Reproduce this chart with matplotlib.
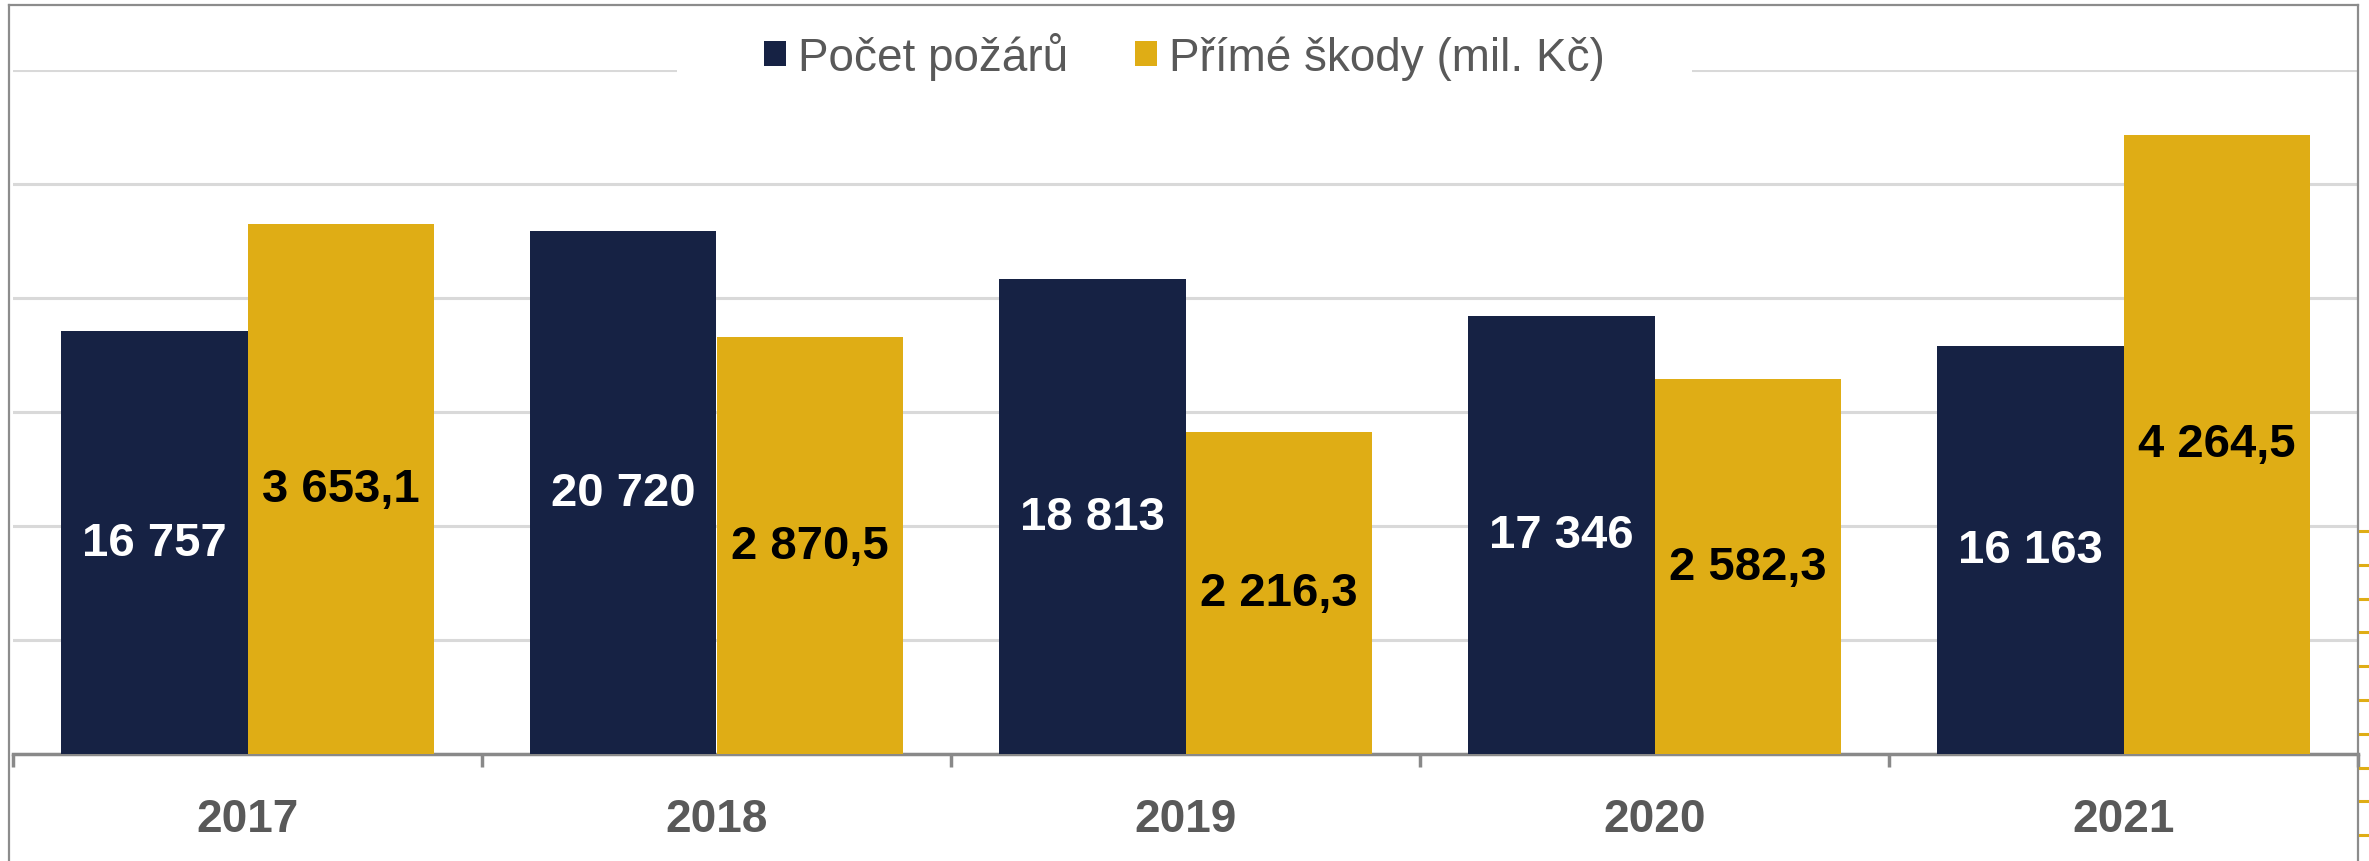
import matplotlib
matplotlib.use("Agg")
import matplotlib.pyplot as plt
from matplotlib.patches import Patch
from matplotlib.lines import Line2D
import numpy as np

years = ['2017', '2018', '2019', '2020', '2021']
fires = [16757, 20720, 18813, 17346, 16163]
damage = [3653.1, 2870.5, 2216.3, 2582.3, 4264.5]
series_names = ['Počet požárů', 'Přímé škody (mil. Kč)']

NAVY = '#162244'
GOLD = '#DFAD15'
GRAY_TXT = '#595959'
GRID = '#D9D9D9'
AXIS = '#898989'
FONT = ['Liberation Sans', 'DejaVu Sans']

plt.rcParams['font.family'] = FONT

W, H = 2369, 862
fig = plt.figure(figsize=(W / 100, H / 100), dpi=100)

left_px, right_px, base_px, top_px = 13, 2358, 755, 71
ax1 = fig.add_axes([left_px / W, 1 - base_px / H, (right_px - left_px) / W, (base_px - top_px) / H])
ax2 = ax1.twinx()

x = np.arange(len(years))
bw = 0.3976

ymax1 = 27110
ymax2 = 4712
ax1.set_ylim(0, ymax1)
ax2.set_ylim(0, ymax2)
ax1.set_xlim(-0.5, len(years) - 0.5)

b1 = ax1.bar(x - bw / 2, fires, bw, color=NAVY, zorder=3)
b2 = ax2.bar(x + bw / 2, damage, bw, color=GOLD, zorder=3)

# grid
ax1.set_yticks(np.linspace(0, ymax1, 7))
ax1.yaxis.grid(True, color=GRID, linewidth=2.2)
ax1.set_axisbelow(True)
ax1.tick_params(axis='y', length=0, labelleft=False)
ax2.set_yticks([])
ax2.tick_params(axis='y', length=0, labelright=False)

for ax in (ax1, ax2):
    for s in ('top', 'left', 'right'):
        ax.spines[s].set_visible(False)
ax2.spines['bottom'].set_visible(False)
ax1.spines['bottom'].set_color(AXIS)
ax1.spines['bottom'].set_linewidth(2.5)

# x ticks
ax1.set_xticks(x)
ax1.set_xticklabels(years, fontsize=33, fontweight='bold', color=GRAY_TXT)
ax1.tick_params(axis='x', which='major', length=0, pad=31)
ax1.set_xticks(np.arange(-0.5, len(years)), minor=True)
ax1.tick_params(axis='x', which='minor', length=9, width=2.5, color=AXIS)


def fmt(v, dec):
    s = f"{v:,.{dec}f}"
    return s.replace(',', ' ').replace('.', ',')


for rect, v in zip(b1, fires):
    ax1.text(rect.get_x() + rect.get_width() / 2, v / 2, fmt(v, 0),
             ha='center', va='center', fontsize=34, fontweight='bold', color='white', zorder=5)
for rect, v in zip(b2, damage):
    ax2.text(rect.get_x() + rect.get_width() / 2, v / 2, fmt(v, 1),
             ha='center', va='center', fontsize=34, fontweight='bold', color='black', zorder=5)

handles = [Patch(facecolor=NAVY, edgecolor='none'), Patch(facecolor=GOLD, edgecolor='none')]
leg = fig.legend(handles, series_names, loc='center', bbox_to_anchor=(0.5, 1 - 57 / H),
                 ncol=2, fontsize=33, frameon=True, fancybox=False, framealpha=1,
                 facecolor='white', edgecolor='none', handlelength=0.48, handleheight=0.48,
                 handletextpad=0.26, columnspacing=1.45, borderpad=1.9, borderaxespad=0)
for t in leg.get_texts():
    t.set_color(GRAY_TXT)
leg.set_zorder(10)

# outer chart frame
fl, ft, fr = 8.5, 6, 2358
def fx(px):
    return px / W
def fy(py):
    return 1 - py / H
for xs, ys in (([fx(fl), fx(fl)], [fy(ft), 0]),
               ([fx(fl), fx(fr)], [fy(ft), fy(ft)]),
               ([fx(fr), fx(fr)], [fy(ft), 0])):
    fig.add_artist(Line2D(xs, ys, color='#8C8C8C', linewidth=1.6, zorder=20))

# small gold tick fragments at the right edge
for k in range(10):
    yy = 532 + 33.8 * k
    fig.add_artist(Line2D([fx(2360), fx(2369)], [fy(yy), fy(yy)], color=GOLD, linewidth=2.2, zorder=20))

fig.savefig('out.png', dpi=100)
